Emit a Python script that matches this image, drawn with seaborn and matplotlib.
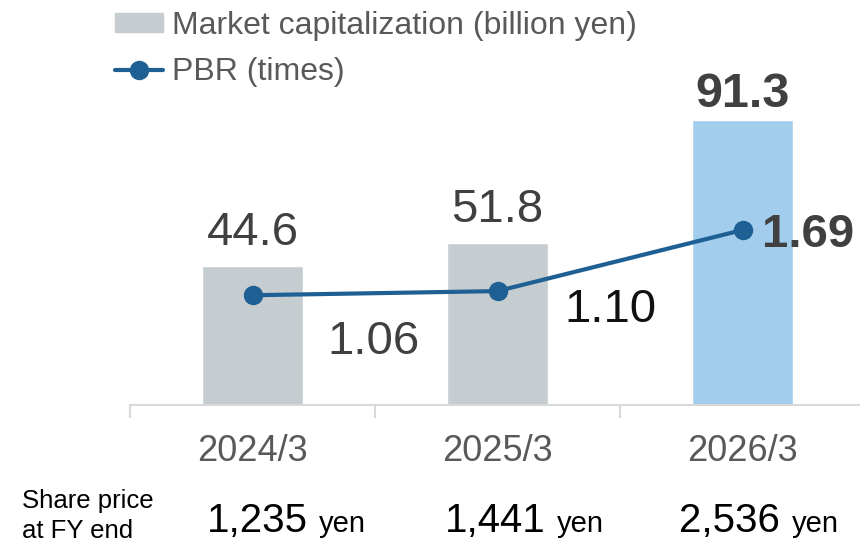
import matplotlib
matplotlib.use("Agg")
import matplotlib.pyplot as plt
import matplotlib.transforms as mtransforms
from matplotlib.lines import Line2D
from matplotlib.patches import Patch
import seaborn as sns

# data
years = ["2024/3", "2025/3", "2026/3"]
market_cap = [44.6, 51.8, 91.3]        # billion yen
pbr = [1.06, 1.10, 1.69]               # times
share_price = ["1,235", "1,441", "2,536"]

GRAY_BAR = "#c5cdd1"
BLUE_BAR = "#a3cded"
LINE_C = "#1f6094"
TXT = "#595959"
DARK = "#404040"

sns.set_theme(style="white")
plt.rcParams["font.family"] = ["Liberation Sans", "DejaVu Sans"]

fig = plt.figure(figsize=(8.6, 5.4), dpi=100)
ax = fig.add_axes([130 / 860, 135 / 540, 735 / 860, 345 / 540])

sns.barplot(x=years, y=market_cap, hue=years, palette=[GRAY_BAR, GRAY_BAR, BLUE_BAR],
            width=0.41, legend=False, saturation=1, ax=ax)
ax.set_xlim(-0.5, 2.5)
ax.set_ylim(0, 110.5)

ax2 = ax.twinx()
sns.lineplot(x=[0, 1, 2], y=pbr, color=LINE_C, lw=3, marker="o", markersize=14,
             markeredgewidth=0, ax=ax2)
ax2.set_ylim(0, 3.332)

# bar value labels
for i, v in enumerate(market_cap):
    bold = i == len(market_cap) - 1
    ax.annotate(f"{v:.1f}", (i, v), xytext=(0, 9.5 if bold else 15),
                textcoords="offset points", ha="center", va="baseline",
                fontsize=35 if bold else 34, fontweight="bold" if bold else "normal",
                color=DARK)

# PBR labels
pbr_offsets = [(87, -42), (81, -22), (14, -12)]
pbr_styles = [("normal", DARK, "center"), ("normal", "#111111", "center"), ("bold", DARK, "left")]
for i, v in enumerate(pbr):
    w, c, ha = pbr_styles[i]
    ax2.annotate(f"{v:.2f}", (i, v), xytext=pbr_offsets[i], textcoords="offset points",
                 ha=ha, va="baseline", fontsize=34, fontweight=w, color=c)

# axes styling
for a in (ax, ax2):
    for s in ("left", "right", "top"):
        a.spines[s].set_visible(False)
    a.set_yticks([])
    a.set_ylabel("")
ax2.spines["bottom"].set_visible(False)
ax.spines["bottom"].set_color("#d9d9d9")
ax.spines["bottom"].set_linewidth(1.5)
ax.set_xticks([-0.5, 0.5, 1.5, 2.5], minor=True)
ax.tick_params(axis="x", which="major", length=0, pad=21, labelsize=26, labelcolor=TXT)
ax.tick_params(axis="x", which="minor", length=9, width=1.5, color="#d9d9d9",
               direction="out", bottom=True)
ax.set_xlabel("")

# legend
handles = [Patch(color=GRAY_BAR),
           Line2D([], [], color=LINE_C, lw=3, marker="o", markersize=14, markeredgewidth=0)]
fig.legend(handles, ["Market capitalization (billion yen)", "PBR (times)"],
           loc="upper left", bbox_to_anchor=(115 / 860, 1 - 11 / 540), frameon=False,
           fontsize=23, labelcolor=TXT, handlelength=1.5, handleheight=0.55,
           handletextpad=0.3, labelspacing=0.5, borderpad=0, borderaxespad=0)

# share price row
trans = mtransforms.blended_transform_factory(ax.transData, fig.transFigure)
fig.text(22 / 860, 1 - 489 / 540, "Share price\nat FY end", ha="left", va="top",
         fontsize=18.5, color="black", linespacing=1.3)
num_right = [0.224, 0.196, 0.151]
yen_left = [0.269, 0.241, 0.200]
for i, p in enumerate(share_price):
    ax.text(i + num_right[i], 8 / 540, p, transform=trans, ha="right", va="baseline",
            fontsize=29, color="black", clip_on=False)
    ax.text(i + yen_left[i], 8 / 540, "yen", transform=trans, ha="left", va="baseline",
            fontsize=21, color="black", clip_on=False)

fig.savefig("out.png", dpi=100)
